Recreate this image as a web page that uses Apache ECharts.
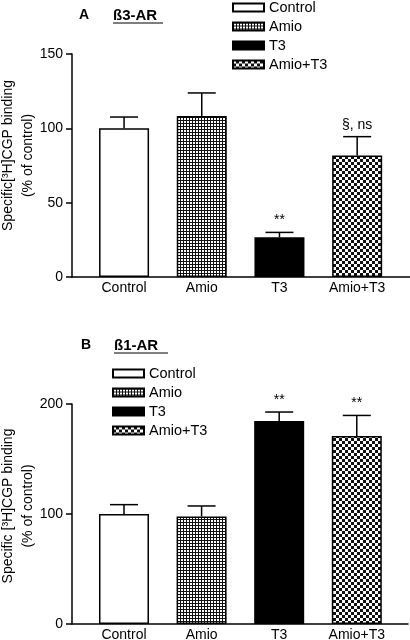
<!DOCTYPE html>
<html>
<head>
<meta charset="utf-8">
<script src="https://cdn.jsdelivr.net/npm/echarts@6/dist/echarts.min.js"></script>
<style>
html,body{margin:0;padding:0;background:#fff;}
#chart{width:410px;height:640px;}
</style>
</head>
<body>
<div id="chart"></div>
<script>
// ---- data ----
var categories = ['Control', 'Amio', 'T3', 'Amio+T3'];
var aMeans = [100, 108.3, 26.7, 81.8];
var aSem = [7.6, 15.5, 3.3, 12.6];
var aNotes = ['', '', '**', '§, ns'];
var bMeans = [100, 97.8, 184.5, 171];
var bSem = [8.5, 9.5, 8.2, 18.6];
var bNotes = ['', '', '**', '**'];
var aTicks = [0, 50, 100, 150];
var bTicks = [0, 100, 200];

// ---- patterns ----
function amioPattern() {
  var c = document.createElement('canvas');
  c.width = 3; c.height = 3;
  var g = c.getContext('2d');
  g.fillStyle = '#fff'; g.fillRect(0, 0, 3, 3);
  g.fillStyle = '#111'; g.fillRect(0, 0, 3, 1); g.fillRect(0, 0, 1, 3);
  return c;
}
function checkerPattern() {
  var c = document.createElement('canvas');
  c.width = 6; c.height = 6;
  var g = c.getContext('2d');
  g.fillStyle = '#111'; g.fillRect(0, 0, 6, 6);
  g.fillStyle = '#fff'; g.fillRect(0, 0, 3, 3); g.fillRect(3, 3, 3, 3);
  return c;
}
var fills = [
  '#ffffff',
  { image: amioPattern(), repeat: 'repeat' },
  '#000000',
  { image: checkerPattern(), repeat: 'repeat' }
];

var FONT = 'Liberation Sans, Arial, Helvetica, sans-serif';

function barSeries(means, gridIdx) {
  return categories.map(function (name, i) {
    return {
      name: name,
      type: 'bar',
      xAxisIndex: gridIdx,
      yAxisIndex: gridIdx,
      barWidth: 50,
      barGap: '-100%',
      itemStyle: { color: fills[i], borderColor: '#000', borderWidth: 1.5 },
      data: [[i, means[i]]],
      z: 2
    };
  });
}

function errSeries(means, sem, notes, gridIdx) {
  return {
    type: 'custom',
    xAxisIndex: gridIdx,
    yAxisIndex: gridIdx,
    z: 3,
    data: means.map(function (m, i) { return [i, m, m + sem[i]]; }),
    renderItem: function (params, api) {
      var i = params.dataIndex;
      var p0 = api.coord([api.value(0), api.value(1)]);
      var p1 = api.coord([api.value(0), api.value(2)]);
      var ls = { stroke: '#000', lineWidth: 1.5 };
      return {
        type: 'group',
        children: [
          { type: 'line', shape: { x1: p0[0], y1: p0[1], x2: p1[0], y2: p1[1] }, style: ls },
          { type: 'line', shape: { x1: p1[0] - 14, y1: p1[1], x2: p1[0] + 14, y2: p1[1] }, style: ls },
          { type: 'text', style: { text: notes[i], x: p1[0], y: p1[1] - 5, align: 'center', verticalAlign: 'bottom', font: '14px ' + FONT, fill: '#000' } }
        ]
      };
    }
  };
}

function xAx(gridIdx, max) {
  return {
    type: 'value', gridIndex: gridIdx, min: -0.67, max: max,
    axisLine: { show: true, onZero: false, lineStyle: { color: '#000', width: 1.5 } },
    axisTick: { show: false },
    splitLine: { show: false },
    axisLabel: {
      customValues: [0, 1, 2, 3],
      formatter: function (v) { return categories[Math.round(v)]; },
      color: '#000', fontSize: 14, fontFamily: FONT, margin: 4
    }
  };
}
function yAx(gridIdx, ticks, name, pad) {
  return {
    type: 'value', gridIndex: gridIdx, min: 0, max: ticks[ticks.length - 1], interval: ticks[1] - ticks[0],
    axisLine: { show: true, onZero: false, lineStyle: { color: '#000', width: 1.5 } },
    axisTick: { show: true, length: 6, lineStyle: { color: '#000', width: 1.5 } },
    splitLine: { show: false },
    axisLabel: { color: '#000', fontSize: 14, fontFamily: FONT, margin: 9 },
    name: name, nameLocation: 'middle', nameRotate: 90, nameGap: 34, nameMoveOverlap: false,
    nameTextStyle: { color: '#000', fontSize: 14, fontFamily: FONT, lineHeight: 20, padding: [0, 0, 0, pad] }
  };
}

var chart = echarts.init(document.getElementById('chart'), null, { renderer: 'canvas' });
chart.setOption({
  backgroundColor: '#fff',
  animation: false,
  grid: [
    { left: 72, right: 0, top: 54, bottom: 363, containLabel: false, outerBoundsMode: 'none' },
    { left: 72, right: 2, top: 404, bottom: 16, containLabel: false, outerBoundsMode: 'none' }
  ],
  xAxis: [xAx(0, 3.68), xAx(1, 3.66)],
  yAxis: [
    yAx(0, aTicks, 'Specific[³H]CGP binding\n(% of control)', 20),
    yAx(1, bTicks, 'Specific [³H]CGP binding\n(% of control)', 16)
  ],
  legend: [
    { left: 227, top: -5, orient: 'vertical', itemWidth: 31, itemHeight: 8, itemGap: 4, icon: 'rect', selectedMode: false,
      textStyle: { color: '#000', fontSize: 14.5, fontFamily: FONT }, data: categories },
    { left: 107, top: 361, orient: 'vertical', itemWidth: 31, itemHeight: 8, itemGap: 4, icon: 'rect', selectedMode: false,
      textStyle: { color: '#000', fontSize: 14.5, fontFamily: FONT }, data: categories }
  ],
  graphic: [
    { type: 'text', left: 79, top: 8, style: { text: 'A', font: 'bold 14px ' + FONT, fill: '#000' } },
    { type: 'text', left: 113, top: 8, style: { text: 'ß3-AR', font: 'bold 15px ' + FONT, fill: '#000' } },
    { type: 'line', shape: { x1: 113, y1: 23, x2: 163, y2: 23 }, style: { stroke: '#000', lineWidth: 1.2 } },
    { type: 'text', left: 81, top: 338, style: { text: 'B', font: 'bold 14px ' + FONT, fill: '#000' } },
    { type: 'text', left: 114, top: 338, style: { text: 'ß1-AR', font: 'bold 15px ' + FONT, fill: '#000' } },
    { type: 'line', shape: { x1: 114, y1: 353, x2: 168, y2: 353 }, style: { stroke: '#000', lineWidth: 1.2 } }
  ],
  series: [].concat(
    barSeries(aMeans, 0),
    [errSeries(aMeans, aSem, aNotes, 0)],
    barSeries(bMeans, 1),
    [errSeries(bMeans, bSem, bNotes, 1)]
  )
});
</script>
</body>
</html>
